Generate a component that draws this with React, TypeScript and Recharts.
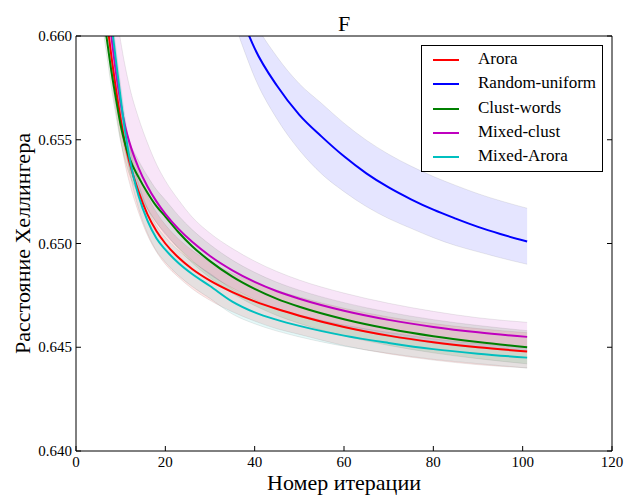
import React from "react";
import { Area, ComposedChart, Legend, Line, XAxis, YAxis } from "recharts";

const FONT = "'Liberation Serif', 'DejaVu Serif', 'Noto Serif', serif";

// iteration numbers used for the cluster of curves
const iters = [5, 6, 7, 8, 9, 10, 11, 12, 14, 16, 18, 20, 23, 26, 30, 35, 40, 45, 50, 60, 70, 80, 90, 101];

const arora = [0.6643, 0.6624, 0.6606, 0.6589, 0.65735, 0.656, 0.6548, 0.6539, 0.6525, 0.6514, 0.6506, 0.65, 0.64931, 0.64877, 0.64821, 0.64766, 0.64721, 0.64684, 0.64652, 0.64598, 0.64556, 0.64524, 0.645, 0.6448];
const aroraLo = [0.6633, 0.6614, 0.6596, 0.6579, 0.65635, 0.655, 0.6538, 0.6529, 0.6515, 0.6504, 0.6496, 0.649, 0.64836, 0.64782, 0.64726, 0.64671, 0.64626, 0.64589, 0.64562, 0.64508, 0.64468, 0.64438, 0.64416, 0.644];
const aroraHi = [0.6652, 0.6633, 0.6615, 0.6598, 0.65825, 0.6569, 0.6557, 0.6548, 0.6534, 0.6523, 0.6515, 0.6509, 0.65021, 0.64967, 0.64911, 0.64856, 0.64811, 0.64774, 0.64742, 0.64688, 0.64646, 0.64614, 0.6459, 0.6457];

const clust = [0.6627, 0.6612, 0.6597, 0.6582, 0.6569, 0.6557, 0.6548, 0.6541, 0.6532, 0.65245, 0.6518, 0.6513, 0.65053, 0.64987, 0.64915, 0.6484, 0.64781, 0.64733, 0.64695, 0.64635, 0.64589, 0.64553, 0.64525, 0.645];
const clustLo = [0.6619, 0.6604, 0.6589, 0.6574, 0.6561, 0.6549, 0.654, 0.6533, 0.6524, 0.65165, 0.651, 0.6505, 0.64973, 0.64907, 0.64835, 0.6476, 0.64701, 0.64653, 0.64615, 0.64555, 0.64509, 0.64473, 0.64445, 0.6442];
const clustHi = [0.6635, 0.662, 0.6605, 0.659, 0.6577, 0.6565, 0.6556, 0.6549, 0.654, 0.65325, 0.6526, 0.6521, 0.65133, 0.65067, 0.64995, 0.6492, 0.64861, 0.64813, 0.64775, 0.64715, 0.64669, 0.64633, 0.64605, 0.6458];

const mixed = [0.66585, 0.66375, 0.66175, 0.65985, 0.65815, 0.65675, 0.65565, 0.65485, 0.65365, 0.65275, 0.65203, 0.65143, 0.65069, 0.65008, 0.6494, 0.64871, 0.64815, 0.6477, 0.64734, 0.64676, 0.64632, 0.64598, 0.64572, 0.6455];
const mixedLo = [0.66465, 0.66255, 0.66055, 0.65865, 0.65695, 0.65555, 0.65445, 0.65365, 0.65255, 0.6517, 0.65103, 0.65043, 0.64979, 0.64918, 0.6485, 0.64786, 0.6473, 0.64685, 0.64649, 0.64596, 0.64552, 0.6452, 0.64497, 0.6448];
const mixedHi = [0.66885, 0.66675, 0.66475, 0.66285, 0.66115, 0.65975, 0.65855, 0.65755, 0.65605, 0.65485, 0.65383, 0.65303, 0.65209, 0.65128, 0.6505, 0.64976, 0.64915, 0.64865, 0.64824, 0.64761, 0.64712, 0.64673, 0.64642, 0.6462];

const mixedArora = [0.6661, 0.6641, 0.6623, 0.6605, 0.6587, 0.657, 0.6554, 0.6541, 0.6523, 0.6511, 0.65025, 0.6497, 0.64905, 0.64853, 0.64795, 0.6472, 0.64668, 0.64632, 0.64603, 0.64556, 0.64521, 0.64491, 0.64469, 0.6445];
const mixedAroraLo = [0.6655, 0.6635, 0.6617, 0.6599, 0.6581, 0.6564, 0.6548, 0.6535, 0.6517, 0.6505, 0.64965, 0.6491, 0.64845, 0.64793, 0.64735, 0.6466, 0.64613, 0.64578, 0.6455, 0.64505, 0.64471, 0.64442, 0.64421, 0.644];
const mixedAroraHi = [0.6667, 0.6647, 0.6629, 0.6611, 0.6593, 0.6576, 0.656, 0.6547, 0.6529, 0.6517, 0.65085, 0.6503, 0.64965, 0.64913, 0.64855, 0.6478, 0.64723, 0.64686, 0.64656, 0.64607, 0.64571, 0.6454, 0.64517, 0.645];

// random-uniform only becomes visible after ~38 iterations
const itersRandom = [35, 38, 40, 45, 50, 55, 60, 65, 70, 75, 80, 85, 90, 95, 101];
const randomUni = [0.6621, 0.6604, 0.6594, 0.6576, 0.6562, 0.65515, 0.6542, 0.65338, 0.6527, 0.65213, 0.65163, 0.6512, 0.6508, 0.65046, 0.6501];
const randomLo = [0.6609, 0.6591, 0.658, 0.656, 0.6545, 0.65335, 0.6525, 0.65178, 0.6512, 0.65073, 0.65028, 0.6499, 0.6496, 0.64931, 0.649];
const randomHi = [0.6633, 0.66165, 0.6607, 0.659, 0.6577, 0.65675, 0.6558, 0.65498, 0.6543, 0.65373, 0.65323, 0.6528, 0.6524, 0.65206, 0.6517];

const xTicks = [0, 20, 40, 60, 80, 100, 120];
const yTicks = [0.64, 0.645, 0.65, 0.655, 0.66];

const rows = (xs: number[], mean: number[], lo: number[], hi: number[]) =>
  xs.map((x, i) => ({ x, mean: mean[i], lo: lo[i], hi: hi[i] }));

const series = [
  { name: "Arora", color: "#ff0000", data: rows(iters, arora, aroraLo, aroraHi) },
  { name: "Random-uniform", color: "#0000ff", data: rows(itersRandom, randomUni, randomLo, randomHi) },
  { name: "Clust-words", color: "#008000", data: rows(iters, clust, clustLo, clustHi) },
  { name: "Mixed-clust", color: "#bf00bf", data: rows(iters, mixed, mixedLo, mixedHi) },
  { name: "Mixed-Arora", color: "#00bfbf", data: rows(iters, mixedArora, mixedAroraLo, mixedAroraHi) },
];
const order = series.map((s) => s.name);

// tickSize is negative so the tick marks point into the plot, as in the source
const BottomLabel = ({ x, y, payload }: any) => (
  <text x={x} y={y + 21} textAnchor="middle" fontSize={15} fontFamily={FONT} fill="#000">
    {payload.value}
  </text>
);
const LeftLabel = ({ x, y, payload }: any) => (
  <text x={x - 9} y={y + 5} textAnchor="end" fontSize={15} fontFamily={FONT} fill="#000">
    {Number(payload.value).toFixed(3)}
  </text>
);
const NoLabel = () => <g />;

const LegendBox = ({ payload }: any) => {
  const items = (payload || [])
    .filter((p: any) => p.type !== "none" && order.includes(p.value))
    .sort((a: any, b: any) => order.indexOf(a.value) - order.indexOf(b.value));
  return (
    <div
      style={{
        width: 180,
        height: 125,
        border: "1px solid #000",
        background: "#fff",
        fontFamily: FONT,
        fontSize: 17,
        position: "relative",
      }}
    >
      {items.map((p: any, i: number) => (
        <div key={p.value} style={{ position: "absolute", left: 0, top: 2 + i * 24.3, height: 24, width: 180 }}>
          <div style={{ position: "absolute", left: 11, top: 11, width: 26, height: 2, background: p.color }} />
          <div style={{ position: "absolute", left: 56, top: 1, lineHeight: "20px", whiteSpace: "nowrap" }}>{p.value}</div>
        </div>
      ))}
    </div>
  );
};

export default function App() {
  return (
    <div style={{ position: "absolute", left: 0, top: 0, width: 625, height: 496, background: "#fff" }}>
      <ComposedChart width={625} height={496} margin={{ top: 0, right: 0, bottom: 0, left: 0 }}>
        <XAxis
          xAxisId="b"
          type="number"
          dataKey="x"
          domain={[0, 120]}
          ticks={xTicks}
          interval={0}
          allowDataOverflow
          height={45}
          tickSize={-5}
          tickMargin={0}
          tickLine={{ stroke: "#000" }}
          axisLine={{ stroke: "#000" }}
          tick={<BottomLabel />}
        />
        <XAxis
          xAxisId="t"
          orientation="top"
          type="number"
          domain={[0, 120]}
          ticks={xTicks}
          interval={0}
          allowDataOverflow
          height={36}
          tickSize={-5}
          tickMargin={0}
          tickLine={{ stroke: "#000" }}
          axisLine={{ stroke: "#000" }}
          tick={<NoLabel />}
        />
        <YAxis
          yAxisId="l"
          type="number"
          domain={[0.64, 0.66]}
          ticks={yTicks}
          interval={0}
          allowDataOverflow
          width={76}
          tickSize={-5}
          tickMargin={0}
          tickLine={{ stroke: "#000" }}
          axisLine={{ stroke: "#000" }}
          tick={<LeftLabel />}
        />
        <YAxis
          yAxisId="r"
          orientation="right"
          type="number"
          domain={[0.64, 0.66]}
          ticks={yTicks}
          interval={0}
          allowDataOverflow
          width={13}
          tickSize={-5}
          tickMargin={0}
          tickLine={{ stroke: "#000" }}
          axisLine={{ stroke: "#000" }}
          tick={<NoLabel />}
        />
        {series.map((s) => (
          <Area
            key={`band-${s.name}`}
            xAxisId="b"
            yAxisId="l"
            data={s.data}
            dataKey={(d: any) => [d.lo, d.hi]}
            type="monotone"
            fill={s.color}
            fillOpacity={0.1}
            stroke="#000"
            strokeOpacity={0.08}
            strokeWidth={1}
            legendType="none"
            isAnimationActive={false}
            activeDot={false}
          />
        ))}
        {series.map((s) => (
          <Line
            key={s.name}
            name={s.name}
            xAxisId="b"
            yAxisId="l"
            data={s.data}
            dataKey="mean"
            type="monotone"
            stroke={s.color}
            strokeWidth={2}
            dot={false}
            activeDot={false}
            isAnimationActive={false}
          />
        ))}
        <Legend
          layout="vertical"
          align="center"
          verticalAlign="middle"
          content={<LegendBox />}
          wrapperStyle={{ left: 421, top: 45, width: 182, height: 127 }}
        />
      </ComposedChart>
      <svg width={625} height={496} style={{ position: "absolute", left: 0, top: 0, pointerEvents: "none" }}>
        <text x={344} y={31} textAnchor="middle" fontSize={22} fontFamily={FONT}>
          F
        </text>
        <text x={344} y={490} textAnchor="middle" fontSize={22} fontFamily={FONT}>
          Номер итерации
        </text>
        <text x={30} y={243.5} textAnchor="middle" fontSize={22} fontFamily={FONT} transform="rotate(-90 30 243.5)">
          Расстояние Хеллингера
        </text>
      </svg>
    </div>
  );
}
